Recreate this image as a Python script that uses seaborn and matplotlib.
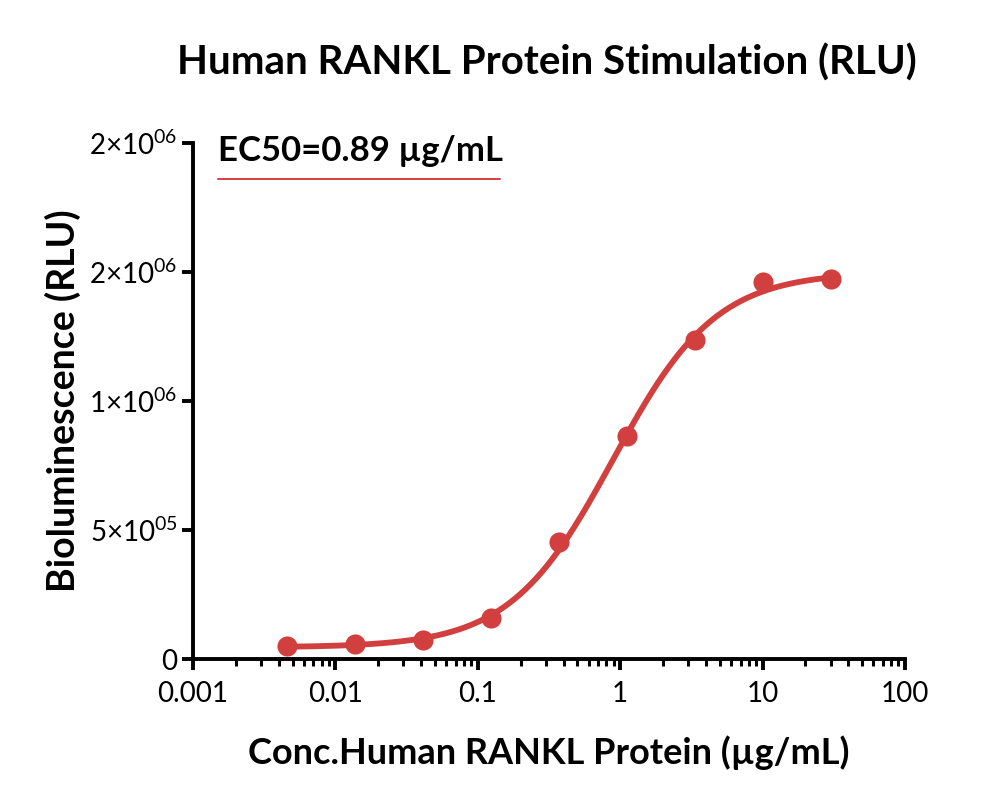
import numpy as np
import pandas as pd
import seaborn as sns
import matplotlib.pyplot as plt
from matplotlib.ticker import FixedLocator, FixedFormatter, LogLocator, NullFormatter

# measured points (3-fold dilution series)
conc = [0.004572, 0.01372, 0.04115, 0.1235, 0.3704, 1.111, 3.333, 10.0, 30.0]
rlu = [50000, 58000, 74000, 159000, 453000, 864000, 1236000, 1461000, 1473000]

# 4PL fit parameters
bottom, top, ec50, hill = 45000, 1500000, 0.89, 1.2

y_ticks = [0, 500000, 1000000, 1500000, 2000000]
y_labels = ["0", r"$5{\times}10^{05}$", r"$1{\times}10^{06}$", r"$2{\times}10^{06}$", r"$2{\times}10^{06}$"]
x_ticks = [0.001, 0.01, 0.1, 1, 10, 100]
x_labels = ["0.001", "0.01", "0.1", "1", "10", "100"]

red = "#d23f3f"

sns.set_style("ticks")
plt.rcParams["font.family"] = ["Lato", "DejaVu Sans"]
plt.rcParams["mathtext.fontset"] = "custom"
plt.rcParams["mathtext.rm"] = "Lato"
plt.rcParams["mathtext.it"] = "Lato"
plt.rcParams["text.color"] = "black"
plt.rcParams["axes.labelcolor"] = "black"

df = pd.DataFrame({"conc": conc, "rlu": rlu})
xs = np.logspace(np.log10(conc[0]), np.log10(conc[-1]), 300)
fit = pd.DataFrame({"conc": xs, "rlu": bottom + (top - bottom) / (1 + (ec50 / xs) ** hill)})

fig = plt.figure(figsize=(10, 8.09), dpi=100)
ax = fig.add_axes([0.193, 0.1854, 0.712, 0.6378])

sns.lineplot(data=fit, x="conc", y="rlu", ax=ax, color=red, linewidth=4.2)
sns.scatterplot(data=df, x="conc", y="rlu", ax=ax, color=red, s=210, edgecolor=red, linewidth=0, zorder=3)

ax.set_xscale("log")
ax.set_xlim(0.001, 100)
ax.set_ylim(0, 2000000)
ax.xaxis.set_major_locator(FixedLocator(x_ticks))
ax.xaxis.set_major_formatter(FixedFormatter(x_labels))
ax.xaxis.set_minor_locator(LogLocator(base=10, subs=np.arange(2, 10)))
ax.xaxis.set_minor_formatter(NullFormatter())
ax.yaxis.set_major_locator(FixedLocator(y_ticks))
ax.yaxis.set_major_formatter(FixedFormatter(y_labels))

for s in ["top", "right"]:
    ax.spines[s].set_visible(False)
for s in ["left", "bottom"]:
    ax.spines[s].set_linewidth(2.8)
    ax.spines[s].set_color("black")
ax.tick_params(axis="both", which="major", length=8, width=2.8, labelsize=20, colors="black")
ax.tick_params(axis="x", which="minor", length=5, width=2.2, colors="black")
ax.tick_params(axis="x", which="major", pad=8)
ax.tick_params(axis="y", which="major", pad=3)

ax.set_xlabel("Conc.Human RANKL Protein (µg/mL)", fontsize=26, fontweight="bold", labelpad=20, color="black")
ax.set_ylabel("Bioluminescence (RLU)", fontsize=27, fontweight="bold", labelpad=6, color="black")
fig.text(0.547, 0.923, "Human RANKL Protein Stimulation (RLU)", fontsize=29, fontweight="bold",
         ha="center", va="center", color="black")

ax.text(0.035, 0.985, "EC50=0.89 µg/mL", transform=ax.transAxes, fontsize=25, fontweight="bold",
        ha="left", va="center", color="black")
ax.plot([0.035, 0.431], [0.93, 0.93], transform=ax.transAxes, color=red, linewidth=1.4, clip_on=False)

plt.savefig("out.png", dpi=100)
